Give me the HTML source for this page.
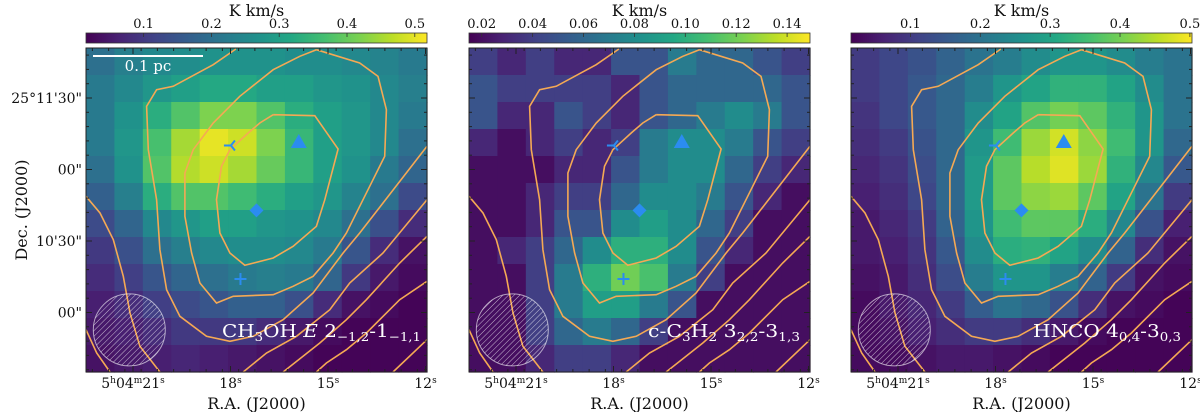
<!DOCTYPE html>
<html><head><meta charset="utf-8"><style>
body{margin:0;background:#fff;}
svg{display:block;}
text{font-family:"DejaVu Serif","Liberation Serif",serif;}
</style></head><body>
<svg id="fig" width="1200" height="412" viewBox="0 0 1200 412" xmlns="http://www.w3.org/2000/svg"></svg>
<script>
// ---------- data ----------
const rows1 = [
 [0.20,0.23,0.25,0.26,0.27,0.27,0.27,0.26,0.26,0.25,0.24,0.22],
 [0.22,0.25,0.28,0.30,0.32,0.32,0.30,0.30,0.28,0.27,0.25,0.23],
 [0.22,0.27,0.33,0.38,0.42,0.42,0.38,0.33,0.30,0.28,0.25,0.22],
 [0.22,0.28,0.37,0.45,0.50,0.48,0.42,0.35,0.30,0.28,0.25,0.20],
 [0.20,0.27,0.38,0.46,0.48,0.45,0.40,0.35,0.30,0.27,0.22,0.18],
 [0.17,0.23,0.33,0.38,0.38,0.36,0.33,0.30,0.28,0.24,0.20,0.13],
 [0.13,0.18,0.25,0.28,0.30,0.30,0.28,0.27,0.25,0.20,0.14,0.08],
 [0.10,0.14,0.20,0.23,0.25,0.26,0.26,0.25,0.22,0.15,0.08,0.04],
 [0.08,0.11,0.15,0.18,0.20,0.22,0.23,0.22,0.18,0.10,0.05,0.03],
 [0.06,0.08,0.11,0.13,0.15,0.17,0.17,0.14,0.08,0.04,0.03,0.02],
 [0.05,0.06,0.08,0.10,0.10,0.10,0.08,0.05,0.03,0.02,0.02,0.02],
 [0.04,0.05,0.06,0.07,0.06,0.05,0.04,0.03,0.02,0.02,0.02,0.02]];
const rows2 = [
 [.04,.03,.04,.03,.03,.05,.05,.07,.06,.06,.05,.04],
 [.05,.04,.04,.04,.04,.03,.05,.06,.06,.06,.06,.05],
 [.05,.03,.03,.05,.04,.03,.05,.06,.07,.08,.07,.05],
 [.03,.02,.03,.04,.03,.04,.07,.08,.08,.07,.05,.04],
 [.02,.02,.02,.03,.03,.05,.07,.08,.08,.06,.04,.03],
 [.02,.02,.03,.04,.04,.06,.08,.08,.07,.05,.03,.02],
 [.02,.02,.03,.05,.05,.08,.09,.08,.06,.04,.02,.02],
 [.02,.03,.04,.06,.08,.10,.10,.08,.05,.03,.02,.02],
 [.02,.02,.04,.07,.10,.12,.11,.07,.04,.02,.02,.02],
 [.02,.02,.04,.07,.09,.09,.07,.05,.02,.02,.02,.02],
 [.02,.02,.04,.06,.07,.06,.04,.02,.02,.02,.02,.02],
 [.02,.02,.03,.04,.04,.03,.02,.02,.02,.02,.02,.02]];
const rows3 = [
 [.10,.12,.14,.17,.20,.22,.25,.27,.27,.25,.22,.20],
 [.10,.12,.15,.18,.22,.27,.30,.33,.33,.30,.25,.20],
 [.09,.12,.15,.18,.25,.30,.37,.40,.38,.33,.27,.20],
 [.08,.10,.14,.18,.27,.35,.43,.47,.42,.35,.27,.18],
 [.07,.09,.13,.18,.28,.38,.45,.48,.43,.33,.24,.15],
 [.06,.08,.12,.18,.28,.38,.42,.43,.38,.30,.20,.10],
 [.05,.07,.10,.17,.27,.35,.38,.38,.32,.24,.14,.06],
 [.05,.06,.09,.15,.25,.32,.33,.30,.25,.17,.08,.04],
 [.04,.05,.08,.13,.22,.27,.27,.22,.17,.10,.04,.03],
 [.03,.05,.07,.10,.16,.20,.18,.14,.08,.04,.03,.02],
 [.03,.04,.06,.08,.10,.10,.08,.05,.03,.02,.02,.02],
 [.03,.03,.04,.05,.05,.04,.03,.02,.02,.02,.02,.02]];
const cbTicks1 = [0.1,0.2,0.3,0.4,0.5];
const cbTicks2 = [0.02,0.04,0.06,0.08,0.10,0.12,0.14];
const cbTicks3 = [0.1,0.2,0.3,0.4,0.5];
const cbLabels1 = ["0.1","0.2","0.3","0.4","0.5"];
const cbLabels2 = ["0.02","0.04","0.06","0.08","0.10","0.12","0.14"];
const cbLabels3 = ["0.1","0.2","0.3","0.4","0.5"];
const raTicks = [21,18,15,12];
const decTicks = [30,0,-30,-60];
const decLabels = ["25°11'30\"","00\"","10'30\"","00\""];

// ---------- helpers ----------
const NS="http://www.w3.org/2000/svg";
const svg=document.getElementById('fig');
function mk(tag,attrs,parent){const e=document.createElementNS(NS,tag);for(const k in attrs)e.setAttribute(k,attrs[k]);(parent||svg).appendChild(e);return e;}
const VIR=[[68,1,84],[72,35,116],[64,67,135],[52,94,141],[41,120,142],[32,144,140],[34,167,132],[68,190,112],[121,209,81],[189,222,38],[253,231,37]];
function viridis(t){t=Math.max(0,Math.min(1,t));const f=t*10,i=Math.min(9,Math.floor(f)),r=f-i;const a=VIR[i],b=VIR[i+1];return `rgb(${Math.round(a[0]+(b[0]-a[0])*r)},${Math.round(a[1]+(b[1]-a[1])*r)},${Math.round(a[2]+(b[2]-a[2])*r)})`;}
const defs=mk('defs',{});
const grad=mk('linearGradient',{id:'vir',x1:0,x2:1,y1:0,y2:0},defs);
for(let i=0;i<=10;i++){mk('stop',{offset:i/10,'stop-color':viridis(i/10)},grad);}
const pat=mk('pattern',{id:'hatch',width:4,height:4,patternUnits:'userSpaceOnUse',patternTransform:'rotate(45)'},defs);
mk('line',{x1:0,y1:0,x2:0,y2:4,stroke:'rgba(255,255,255,0.7)','stroke-width':1},pat);

function N(pts){return pts.map(p=>[(p[0]-258)/1024,(p[1]-145)/972]);}
const contours=[
 N([[820,345],[945,348],[1015,448],[975,600],[950,680],[880,740],[820,775],[735,797],[690,760],[660,700],[650,600],[665,500],[690,450],[745,400],[780,370],[820,345]]),
 N([[950,150],[1080,190],[1135,230],[1160,330],[1155,470],[1110,560],[1040,700],[1000,760],[940,830],[880,860],[820,885],[700,890],[650,910],[600,850],[575,760],[555,650],[555,520],[580,450],[640,370],[720,290],[820,210],[900,170],[950,150]]),
 N([[708,148],[640,195],[520,260],[470,270],[440,320],[445,450],[470,600],[480,750],[500,870],[540,950],[620,1010],[690,1025],[760,1010],[850,960],[940,880],[1030,760],[1080,700],[1150,610],[1282,440]]),
 N([[1282,600],[1150,760],[1050,850],[990,930],[890,1010],[800,1060],[730,1117]]),
 N([[1282,710],[1200,790],[1100,900],[1040,960],[960,1030],[850,1117]]),
 N([[1282,845],[1200,900],[1100,1000],[1040,1050],[980,1090],[950,1117]]),
 N([[1282,1020],[1180,1117]]),
 N([[258,590],[300,640],[340,720],[370,830],[390,940],[420,1040],[480,1117]]),
 N([[258,990],[290,1060],[330,1117]])];

function panel(idx,x0,rows,vmin,vmax,cbT,cbL,labelParts,labelX,labelLen,showY){
  const y0=48,W=341,H=324;
  const g=mk('g',{});
  
  
  const cb=mk('rect',{x:x0,y:33,width:W,height:10,fill:'url(#vir)',stroke:'#333','stroke-width':0.8},g);
  
  
  const cx=v=>x0+(v-vmin)/(vmax-vmin)*W;
  cbT.forEach((v,i)=>{
    mk('line',{x1:cx(v),x2:cx(v),y1:33,y2:37,stroke:'#333','stroke-width':0.8},g);
    const t=mk('text',{x:cx(v),y:28,'text-anchor':'middle','font-size':13,fill:'#111'},g);t.textContent=cbL[i];
    
    
  });
  const ut=mk('text',{x:x0+W/2,y:16,'text-anchor':'middle','font-size':16,fill:'#111','font-family':'DejaVu Sans, Liberation Sans, sans-serif'},g);
  ut.textContent='K km/s';
  
  
  const nr=rows.length,nc=rows[0].length,cw=W/nc,ch=H/nr;
  rows.forEach((row,r)=>row.forEach((v,c)=>{
    const cell=mk('rect',{x:x0+c*cw,y:y0+r*ch,width:cw+0.6,height:ch+0.6,fill:viridis((v-vmin)/(vmax-vmin))},g);
    
    
  }));
  contours.forEach(cn=>{
    const p=mk('polyline',{points:cn.map(q=>(x0+q[0]*W).toFixed(1)+','+(y0+q[1]*H).toFixed(1)).join(' '),fill:'none',stroke:'#f5a954','stroke-width':1.6},g);
    
    
  });
  const bm=mk('circle',{cx:x0+0.127*W,cy:y0+0.87*H,r:36,fill:'url(#hatch)',stroke:'rgba(255,255,255,0.6)','stroke-width':1},g);
  
  
  const px=f=>x0+f*W,py=f=>y0+f*H,col='#2b8cf0';
  const tri=mk('g',{},g);
  const tx=px(0.425),ty=py(0.301);
  mk('path',{d:`M${tx-7},${ty} L${tx},${ty} L${tx+4},${ty-5} M${tx},${ty} L${tx+4},${ty+5}`,stroke:col,'stroke-width':2,fill:'none'},tri);
  const trg=mk('polygon',{points:`${px(0.624)},${py(0.29)-8} ${px(0.624)-8},${py(0.29)+6} ${px(0.624)+8},${py(0.29)+6}`,fill:col},g);
  
  const dx=px(0.50),dy=py(0.501);
  const dm=mk('polygon',{points:`${dx},${dy-7} ${dx+7},${dy} ${dx},${dy+7} ${dx-7},${dy}`,fill:col},g);
  
  const ax=px(0.453),ay=py(0.713);
  const pl=mk('path',{d:`M${ax-6},${ay} H${ax+6} M${ax},${ay-6} V${ay+6}`,stroke:col,'stroke-width':2},g);
  
  const fr=mk('rect',{x:x0,y:y0,width:W,height:H,fill:'none',stroke:'#222','stroke-width':1},g);
  
  const rx=s=>x0+47+(21-s)*32.5;
  for(let s=22.25;s>=11.9;s-=0.5){const X=rx(s);if(X<x0||X>x0+W)continue;
    mk('line',{x1:X,x2:X,y1:y0+H,y2:y0+H-3,stroke:'#222'},g);mk('line',{x1:X,x2:X,y1:y0,y2:y0+3,stroke:'#222'},g);}
  raTicks.forEach((s,i)=>{const X=rx(s);
    mk('line',{x1:X,x2:X,y1:y0+H,y2:y0+H-6,stroke:'#222'},g);mk('line',{x1:X,x2:X,y1:y0,y2:y0+6,stroke:'#222'},g);
    const t=mk('text',{x:X,y:y0+H+16,'text-anchor':'middle','font-size':14,fill:'#111'},g);
    if(i===0){t.innerHTML='5<tspan dy="-5" font-size="9">h</tspan><tspan dy="5">04</tspan><tspan dy="-5" font-size="9">m</tspan><tspan dy="5">21</tspan><tspan dy="-5" font-size="9">s</tspan>';}
    else{t.innerHTML=s+'<tspan dy="-5" font-size="9">s</tspan>';}
    });
  const dyp=a=>y0+50+(30-a)*(71.5/30);
  for(let a=48;a>=-100;a-=6){const Y=dyp(a);if(Y<y0||Y>y0+H)continue;
    mk('line',{x1:x0,x2:x0+3,y1:Y,y2:Y,stroke:'#222'},g);mk('line',{x1:x0+W,x2:x0+W-3,y1:Y,y2:Y,stroke:'#222'},g);}
  decTicks.forEach((a,i)=>{const Y=dyp(a);
    mk('line',{x1:x0,x2:x0+6,y1:Y,y2:Y,stroke:'#222'},g);mk('line',{x1:x0+W,x2:x0+W-6,y1:Y,y2:Y,stroke:'#222'},g);
    if(showY){const t=mk('text',{x:x0-4,y:Y+5,'text-anchor':'end','font-size':14,fill:'#111'},g);t.textContent=decLabels[i];
      }});
  const xl=mk('text',{x:x0+W/2,y:409,'text-anchor':'middle','font-size':16,fill:'#111'},g);xl.textContent='R.A. (J2000)';
  
  const lt=mk('text',{x:labelX,y:337,'font-size':18,fill:'#fff',textLength:labelLen,lengthAdjust:'spacingAndGlyphs'},g);
  lt.innerHTML=labelParts;
  
}
panel(0,86,rows1,0.015,0.518,cbTicks1,cbLabels1,'CH<tspan dy="4" font-size="12">3</tspan><tspan dy="-4">OH </tspan><tspan font-style="italic">E</tspan> 2<tspan dy="4" font-size="12">−1,2</tspan><tspan dy="-4">-1</tspan><tspan dy="4" font-size="12">−1,1</tspan>',222,199,true);
panel(1,469,rows2,0.015,0.149,cbTicks2,cbLabels2,'c-C<tspan dy="4" font-size="12">3</tspan><tspan dy="-4">H</tspan><tspan dy="4" font-size="12">2</tspan><tspan dy="-4"> 3</tspan><tspan dy="4" font-size="12">2,2</tspan><tspan dy="-4">-3</tspan><tspan dy="4" font-size="12">1,3</tspan>',648,152,false);
panel(2,851,rows3,0.015,0.503,cbTicks3,cbLabels3,'HNCO 4<tspan dy="4" font-size="12">0,4</tspan><tspan dy="-4">-3</tspan><tspan dy="4" font-size="12">0,3</tspan>',1033,148,false);
const sb=mk('line',{x1:93,x2:203,y1:56,y2:56,stroke:'#fff','stroke-width':2});

const st=mk('text',{x:148,y:71,'text-anchor':'middle','font-size':15,fill:'#fff','font-family':'DejaVu Sans, Liberation Sans, sans-serif'});st.textContent='0.1 pc';

const yl=mk('text',{x:0,y:0,'text-anchor':'middle','font-size':16,fill:'#111',transform:'translate(27,210) rotate(-90)'});yl.textContent='Dec. (J2000)';

</script>
</body></html>
